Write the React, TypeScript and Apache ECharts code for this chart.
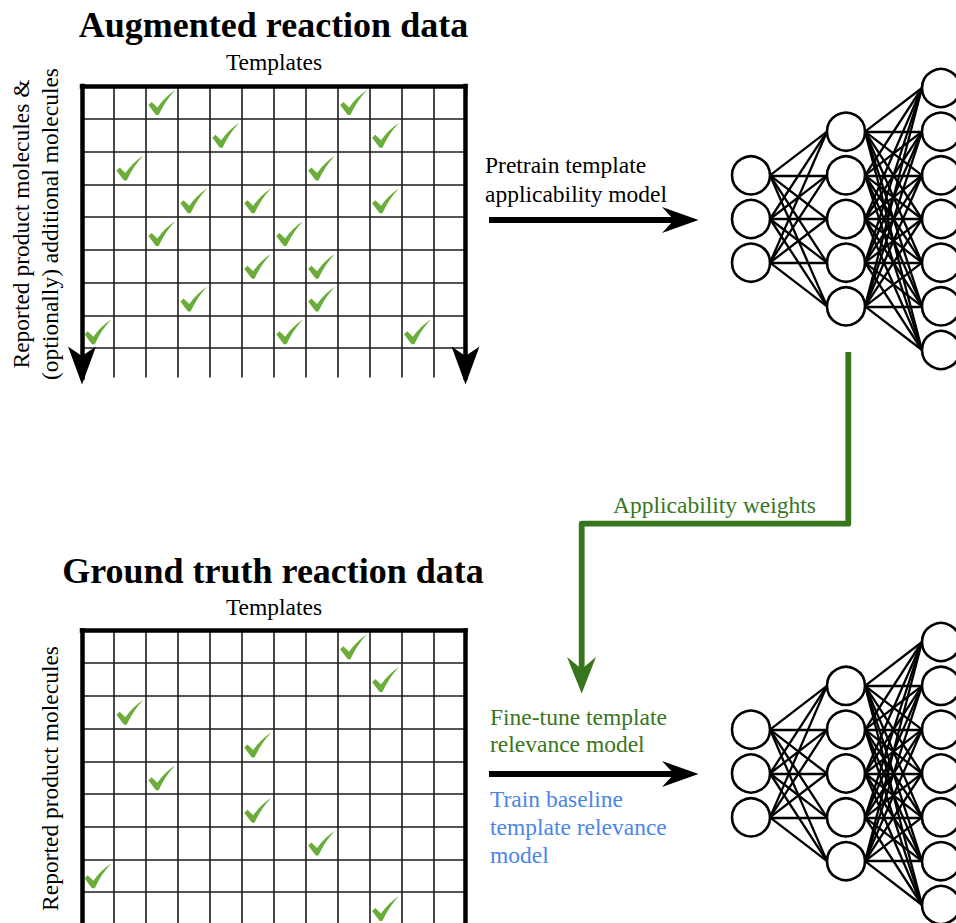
import React, { useEffect, useRef } from "react";
import * as echarts from "echarts";

// ---------- data ----------
const templateCount = 12;
const augmentedRowsShown = 8.9;
const groundRowsShown = 8.945;
// [row, template column]
const augmentedChecks: [number, number][] = [
  [0, 2], [0, 8], [1, 4], [1, 9], [2, 1], [2, 7], [3, 3], [3, 5], [3, 9],
  [4, 2], [4, 6], [5, 5], [5, 7], [6, 3], [6, 7], [7, 0], [7, 6], [7, 10],
];
const groundTruthChecks: [number, number][] = [
  [0, 8], [1, 9], [2, 1], [3, 5], [4, 2], [5, 5], [6, 7], [7, 0], [8, 9],
];
const layerSizes = [3, 5, 7];

const titles = ["Augmented reaction data", "Ground truth reaction data"];
const colLabel = "Templates";
const augmentedRowLabel = ["Reported product molecules &", "(optionally) additional molecules"];
const groundRowLabel = "Reported product molecules";
const pretrainLabel = ["Pretrain template", "applicability model"];
const fineTuneLabel = ["Fine-tune template", "relevance model"];
const baselineLabel = ["Train baseline", "template relevance", "model"];
const weightsLabel = "Applicability weights";

// ---------- style ----------
const SERIF = "Liberation Serif";
const CHECK_GREEN = "#6aad3a";
const DARK_GREEN = "#38761d";
const BLUE = "#4a86e8";
const CHECK_PATH = "path://M0,60 L12,48 L33,70 Q60,28 100,0 Q64,40 38,100 L28,100 Z";
const NODE_SIZE = 38;
const NN_W = 190;

function matrixAxes(gridIndex: number, rows: number, arrows: boolean) {
  const thick = { color: "#000", width: 4.5, cap: "square" };
  const thin = { color: "#1c1c1c", width: 1.6 };
  const x = {
    gridIndex, type: "value", min: 0, max: templateCount, interval: 1, position: "top",
    axisLine: { show: true, onZero: false, lineStyle: thick },
    axisTick: { show: false }, axisLabel: { show: false },
    splitLine: { show: true, lineStyle: thin },
  };
  const arrowLine = {
    show: true, onZero: false,
    symbol: arrows ? ["arrow", "none"] : ["none", "none"],
    symbolSize: [21, 38], symbolOffset: [-7, 0], lineStyle: thick,
  };
  const yBase = {
    gridIndex, type: "value", min: 0, max: rows, interval: 1, inverse: true,
    axisTick: { show: false }, axisLabel: { show: false },
  };
  const yl = {
    ...yBase, position: "left", axisLine: arrowLine,
    splitLine: { show: true, showMaxLine: false, lineStyle: thin },
  };
  const yr = { ...yBase, position: "right", axisLine: arrowLine, splitLine: { show: false } };
  return { x, yl, yr };
}

function nnAxes(gridIndex: number) {
  const maxN = Math.max(...layerSizes);
  return {
    x: { gridIndex, type: "value", min: 0, max: layerSizes.length - 1, show: false },
    y: { gridIndex, type: "value", min: -(maxN - 1) / 2, max: (maxN - 1) / 2, show: false },
  };
}

function nnNodes() {
  const pts: number[][] = [];
  layerSizes.forEach((n, l) => {
    for (let i = 0; i < n; i++) pts.push([l, (n - 1) / 2 - i]);
  });
  return pts;
}

function nnEdges() {
  const inset = NODE_SIZE / 2 / (NN_W / (layerSizes.length - 1));
  const edges: any[] = [];
  for (let l = 0; l < layerSizes.length - 1; l++) {
    const a = layerSizes[l], b = layerSizes[l + 1];
    for (let i = 0; i < a; i++) {
      for (let j = 0; j < b; j++) {
        edges.push({ coords: [[l + inset, (a - 1) / 2 - i], [l + 1 - inset, (b - 1) / 2 - j]] });
      }
    }
  }
  return edges;
}

function txt(text: string, x: number, y: number, opts: any = {}) {
  return {
    type: "text", x, y, rotation: opts.rotation || 0, silent: true,
    style: {
      text, fill: opts.fill || "#000",
      fontFamily: SERIF, fontSize: opts.size || 23.5, fontWeight: opts.bold ? "bold" : "normal",
      align: opts.align || "left", textAlign: opts.align || "left",
      verticalAlign: "middle", textVerticalAlign: "middle",
    },
  };
}

export default function App() {
  const ref = useRef<HTMLDivElement>(null);
  useEffect(() => {
    if (!ref.current) return;
    const chart = echarts.init(ref.current, undefined, { renderer: "svg" });
    const m0 = matrixAxes(0, augmentedRowsShown, true);
    const m1 = matrixAxes(1, groundRowsShown, false);
    const n0 = nnAxes(2);
    const n1 = nnAxes(3);
    const nodes = nnNodes();
    const edges = nnEdges();
    const checkSeries = (checks: [number, number][], xi: number, yi: number) => ({
      type: "scatter", xAxisIndex: xi, yAxisIndex: yi, z: 3, silent: true,
      symbol: CHECK_PATH, symbolSize: [27, 25],
      itemStyle: { color: CHECK_GREEN, opacity: 1 },
      data: checks.map(([r, c]) => [c + 0.5, r + 0.5]),
    });
    const edgeSeries = (xi: number, yi: number) => ({
      type: "lines", coordinateSystem: "cartesian2d", xAxisIndex: xi, yAxisIndex: yi, z: 2, silent: true,
      polyline: false, clip: false,
      lineStyle: { color: "#000", width: 2.3, opacity: 1, curveness: 0 },
      data: edges,
    });
    const nodeSeries = (xi: number, yi: number) => ({
      type: "scatter", xAxisIndex: xi, yAxisIndex: yi, z: 4, silent: true, clip: false,
      symbol: "circle", symbolSize: NODE_SIZE,
      itemStyle: { color: "#fff", borderColor: "#000", borderWidth: 2.6, opacity: 1 },
      data: nodes,
    });

    const graphic: any[] = [
      txt(titles[0], 273.5, 24.8, { bold: true, size: 36, align: "center" }),
      txt(colLabel, 274, 62, { align: "center" }),
      txt(augmentedRowLabel[0], 21, 224, { align: "center", rotation: Math.PI / 2 }),
      txt(augmentedRowLabel[1], 50, 224, { align: "center", rotation: Math.PI / 2 }),
      txt(titles[1], 273, 570.8, { bold: true, size: 36, align: "center" }),
      txt(colLabel, 274, 607, { align: "center" }),
      txt(groundRowLabel, 50, 778.5, { align: "center", rotation: Math.PI / 2 }),
      txt(pretrainLabel[0], 485, 165, {}),
      txt(pretrainLabel[1], 485, 194, {}),
      txt(weightsLabel, 714.5, 505.3, { align: "center", fill: DARK_GREEN }),
      txt(fineTuneLabel[0], 490, 717, { fill: DARK_GREEN }),
      txt(fineTuneLabel[1], 490, 744, { fill: DARK_GREEN }),
      txt(baselineLabel[0], 490, 798.5, { fill: BLUE }),
      txt(baselineLabel[1], 490, 827, { fill: BLUE }),
      txt(baselineLabel[2], 490, 855, { fill: BLUE }),
      // pretrain arrow
      { type: "line", silent: true, shape: { x1: 489, y1: 220, x2: 675, y2: 220 }, style: { stroke: "#000", lineWidth: 6 } },
      { type: "polygon", silent: true, shape: { points: [[662, 207], [674, 220], [662, 233], [698.5, 220]] }, style: { fill: "#000" } },
      // fine-tune arrow
      { type: "line", silent: true, shape: { x1: 489, y1: 774, x2: 675, y2: 774 }, style: { stroke: "#000", lineWidth: 6 } },
      { type: "polygon", silent: true, shape: { points: [[662, 761], [674, 774], [662, 787], [698.5, 774]] }, style: { fill: "#000" } },
      // applicability weights connector
      {
        type: "polyline", silent: true,
        shape: { points: [[848.3, 352], [848.3, 523.7], [581.7, 523.7], [581.7, 670]] },
        style: { stroke: DARK_GREEN, lineWidth: 5.8, fill: null, lineJoin: "round" },
      },
      { type: "polygon", silent: true, shape: { points: [[567, 657], [581.7, 669], [596, 657], [581.7, 693.5]] }, style: { fill: DARK_GREEN } },
    ];

    chart.setOption({
      animation: false,
      backgroundColor: "#fff",
      grid: [
        { left: 82, top: 86, width: 383.5, height: augmentedRowsShown * 32.75 },
        { left: 82, top: 630.5, width: 383.5, height: groundRowsShown * 32.7 },
        { left: 751, top: 88, width: NN_W, height: 262 },
        { left: 751, top: 642, width: NN_W, height: 263 },
      ],
      xAxis: [m0.x, m1.x, n0.x, n1.x],
      yAxis: [m0.yl, m0.yr, m1.yl, m1.yr, n0.y, n1.y],
      series: [
        checkSeries(augmentedChecks, 0, 0),
        checkSeries(groundTruthChecks, 1, 2),
        edgeSeries(2, 4),
        nodeSeries(2, 4),
        edgeSeries(3, 5),
        nodeSeries(3, 5),
      ],
      graphic,
    });
    return () => chart.dispose();
  }, []);
  return (
    <div
      ref={ref}
      style={{ position: "absolute", left: 0, top: 0, width: 956, height: 923, background: "#fff" }}
    />
  );
}
